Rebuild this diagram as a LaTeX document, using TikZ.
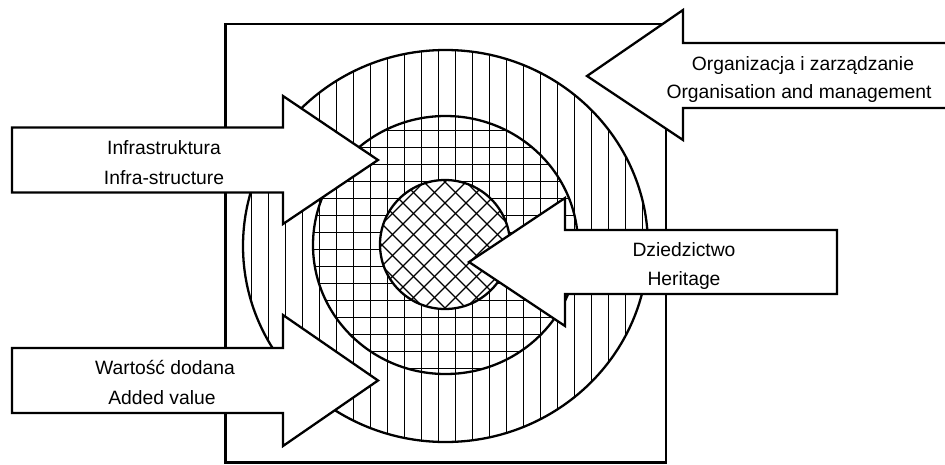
\documentclass[tikz,border=0pt]{standalone}
\usepackage{fontspec}
\setmainfont{Liberation Sans}
\begin{document}
\begin{tikzpicture}[x=1pt,y=-1pt,
  outline/.style={line width=2.3pt,line join=miter},
  hatch/.style={line width=1pt},
  arrowshape/.style={outline,fill=white},
  lbl/.style={anchor=base,inner sep=0pt,font=\fontsize{19.3}{23}\selectfont}]
\useasboundingbox (0,0) rectangle (945,464);
\clip (0,0) rectangle (945,464);
% square frame
\draw[outline,fill=white] (225.5,24.3) rectangle (665.7,462.5);
% outer ring: vertical hatching
\fill[white] (445.5,246) ellipse [x radius=202.5, y radius=196];
\begin{scope}
  \clip (445.5,246) ellipse [x radius=202.5, y radius=196];
  \foreach \k in {-5,...,20} \draw[hatch] (319.3+17*\k,40) -- (319.3+17*\k,450);
\end{scope}
% middle ring: grid (horizontal lines added)
\begin{scope}
  \clip (445.5,245) ellipse [x radius=132.5, y radius=129];
  \foreach \k in {-9,...,8} \draw[hatch] (300,266+17*\k) -- (590,266+17*\k);
\end{scope}
% inner disc: diagonal crosshatch
\fill[white] (445,244.5) ellipse [x radius=65, y radius=64.5];
\begin{scope}
  \clip (445,244.5) ellipse [x radius=65, y radius=64.5];
  \foreach \k in {-9,...,9} {
    \draw[hatch,line width=1.2pt] (445+21*\k-90,245-90) -- (445+21*\k+90,245+90);
    \draw[hatch,line width=1.2pt] (445+21*\k-90,245+90) -- (445+21*\k+90,245-90);
  }
\end{scope}
\draw[outline] (445.5,246) ellipse [x radius=202.5, y radius=196];
\draw[outline] (445.5,245) ellipse [x radius=132.5, y radius=129];
\draw[outline] (445,244.5) ellipse [x radius=65, y radius=64.5];
% arrows
\draw[arrowshape] (12,127.5) -- (283,127.5) -- (283,96) -- (378,160) -- (283,224) -- (283,192.5) -- (12,192.5) -- cycle;
\draw[arrowshape] (12,348) -- (283,348) -- (283,315) -- (378,380.5) -- (283,446) -- (283,413) -- (12,413) -- cycle;
\draw[arrowshape] (970,43) -- (683,43) -- (683,10) -- (587,76) -- (683,140) -- (683,108) -- (970,108) -- cycle;
\draw[arrowshape] (837,230) -- (565,230) -- (565,198) -- (469,262) -- (565,326) -- (565,294) -- (837,294) -- cycle;
% labels
\node[lbl] (infra1) at (164,154) {Infrastruktura};
\node[lbl] (infra2) at (164,184) {Infra-structure};
\node[lbl] (war1) at (165,374) {Wartość dodana};
\node[lbl] (war2) at (162,404) {Added value};
\node[lbl] (org1) at (803,70) {Organizacja i zarządzanie};
\node[lbl] (org2) at (799,98) {Organisation and management};
\node[lbl] (dz1) at (684,256) {Dziedzictwo};
\node[lbl] (dz2) at (684,285) {Heritage};
\end{tikzpicture}
\end{document}
